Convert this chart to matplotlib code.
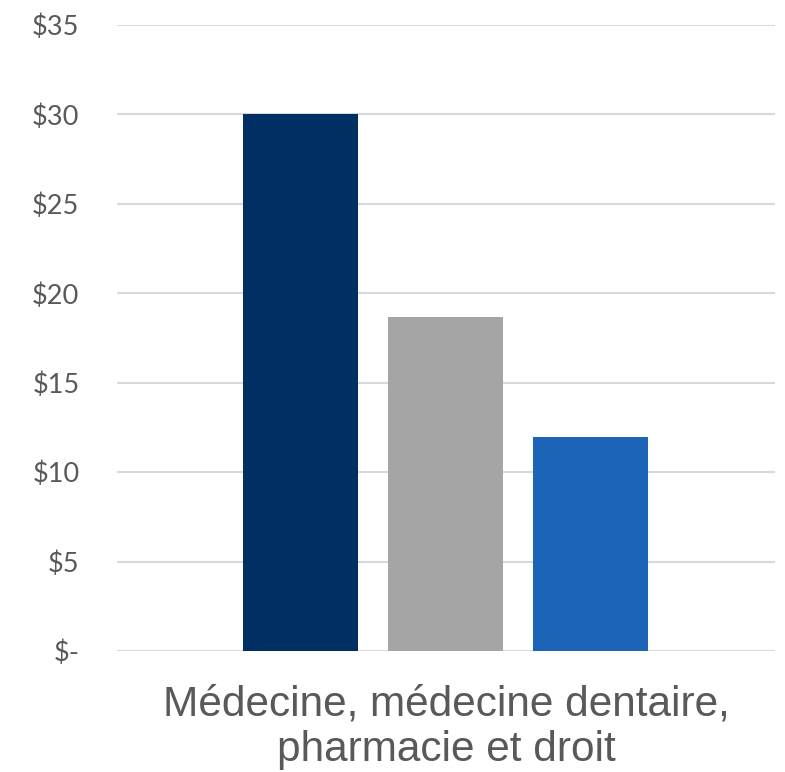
import matplotlib
matplotlib.use("Agg")
import matplotlib.pyplot as plt

category = "Médecine, médecine dentaire,\npharmacie et droit"
series_values = [30.05, 18.65, 11.95]
series_colors = ["#003063", "#A5A5A5", "#1B64B7"]
tick_values = [0, 5, 10, 15, 20, 25, 30, 35]
tick_labels = ["$-", "$5", "$10", "$15", "$20", "$25", "$30", "$35"]

fig = plt.figure(figsize=(7.85, 7.72), dpi=100)
ax = fig.add_axes([0.149, 0.1567, 0.838, 0.8109])

width = 0.175
spacing = 0.2205
offsets = [-spacing, 0, spacing]
for off, v, c in zip(offsets, series_values, series_colors):
    ax.bar(0 + off, v, width=width, color=c, zorder=3)

ax.set_xlim(-0.5, 0.5)
ax.set_ylim(0, 35)
ax.set_yticks(tick_values)
ax.set_yticklabels(tick_labels, fontfamily="Lato", fontsize=19.5, color="#595959")
ax.set_xticks([0])
ax.set_xticklabels([category], fontfamily="Liberation Sans", fontsize=30.5, color="#595959",
                   linespacing=1.18)
ax.tick_params(axis="y", length=0, pad=27)
ax.tick_params(axis="x", length=0, pad=24)
ax.grid(axis="y", color="#D9D9D9", linewidth=1.5, zorder=0)
for s in ax.spines.values():
    s.set_visible(False)

fig.savefig("out.png", dpi=100)
